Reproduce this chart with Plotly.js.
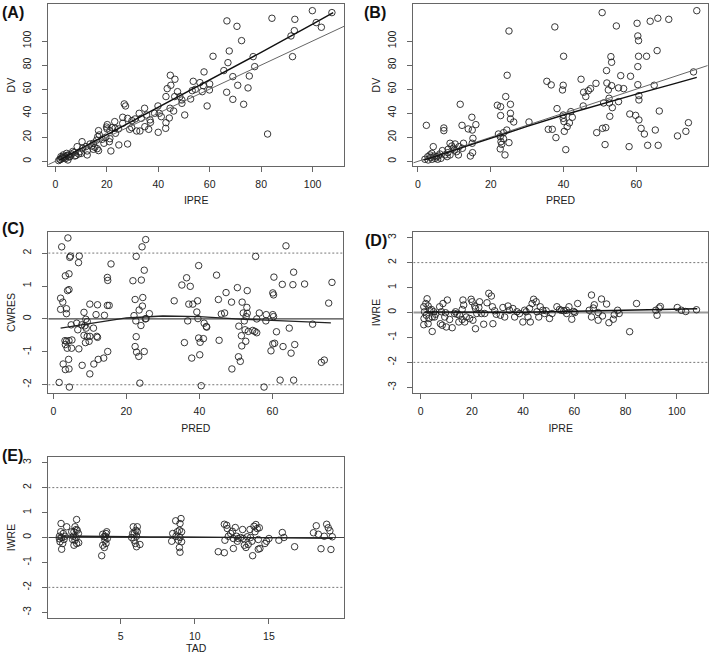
<!DOCTYPE html>
<html><head><meta charset="utf-8">
<script src="https://cdn.plot.ly/plotly-3.0.1.min.js"></script>
<style>html,body{margin:0;padding:0;background:#fff}#chart{width:709px;height:654px}</style>
</head><body><div id="chart"></div>
<script>
// ---- Panel A: DV vs IPRE ----
const A_ipre = [84.2,93.1,99.9,107.5,101.4,103.4,92.9,91.6,92.2,66.7,70.6,72.4,67.6,61.3,76.9,77.5,67.1,65.5,57.8,69,75.4,70.9,74.9,66.6,69,73.2,59,59.9,60,56.2,53.6,54.4,53.2,52.6,57.1,57.5,82.5,44.7,46.5,44.9,43.5,47.5,46.4,49.2,49.2,48.4,43,39.9,44.6,44.3,46,50.3,40.4,41.2,38.6,43,42.9,40,34.7,32.6,33.4,35.5,36.8,37,36.3,34.8,32.9,31.6,29.8,31,29.7,28.9,26.8,27.3,28.1,26.2,26.2,23.1,24.6,23.2,22,20.2,19.9,20.1,21.2,23.4,24.7,28.1,21.6,16.8,17.1,16.5,18.2,16.1,19.6,18.9,21.2,21,14.8,13.5,14.2,15.4,16.3,14.8,16.8,10.4,12.4,12.4,10.6,9.6,8.5,9.1,7.3,7.6,6.3,5.7,5.1,4.4,3.8,4.9,3.1,2.5,1.8,1.3,2.8,3.9,2.2,10.1,11.9,4.6,3.4,2.0,5.3,6.8,8.0];
const A_dv   = [118.9,118,125.2,123.6,115.3,111.4,108.6,104.2,87,116.7,112.2,100.3,91.7,87.3,87,78.7,82,75.4,74.3,70.4,70.9,63.2,61,57.4,51.5,47.4,46,59.3,64.3,65.4,66.5,59.8,58.7,51.8,57.9,62.9,22.7,71.5,68.2,63.2,60.4,57.9,53.8,51,48.2,53.8,53.8,46,44.1,36,41.8,38.5,39.9,37.1,39.9,32.1,27.4,24.1,44.1,39.9,35.7,38.5,34.4,32.4,26.6,28.8,25.2,25.2,33.8,35.2,28,26.6,47.7,46,35.7,36.6,31.6,33,26.9,27.4,28,30.5,28.5,26.9,25.5,23.3,13.6,14.4,8.6,25.5,21.9,20.5,18.3,17.7,20,15,18.8,16.3,15,14.4,12.7,11.6,10.5,10,8.9,16.3,8.6,5.3,10.8,8,12.2,6.1,7.2,4.4,6.1,3.9,5.3,6.6,3.9,1.1,5.3,2.5,1.7,0.6,3.3,2.2,3.9,6.6,12.2,4.8,2.9,1.4,3.6,8.2,4.9];

// ---- Panel B: DV vs PRED ----
const B_pred = [76.6,50.6,65.9,68.9,63.8,60.2,54.5,37.6,25,60.4,60.6,65.7,53,40,60.6,62.8,53.2,60.4,51.8,75.7,55.7,58.4,24.5,44.8,35.4,36.6,39.9,48.9,51.9,60.4,64.9,53.2,55.1,56.5,52.3,39.7,47.4,46.8,45.5,46.1,60.7,60.7,52.5,55.1,51,52.6,45.4,24.1,38.2,11.6,21.8,22.7,25.4,25.4,22.7,25.4,26.3,14.8,15.9,12.1,2.3,7.1,7.1,13.8,14.9,15.1,14.9,15,14.4,24.4,23.5,22.1,22.6,23.5,22.8,23,25,22.6,23.9,30.5,35.8,36.9,37.9,40.2,41,41.6,42.4,42,39.9,39.9,40.1,40.6,49.1,50.7,51.6,51.4,52.7,53.4,58,58.2,59.8,60.7,61.3,62.2,63.1,65.2,66,66.3,71.3,73.6,74.3,1.9,2.7,3.3,3.8,4.2,4.7,5.1,3.9,2.8,3.5,4.5,5.6,6,6.7,7.4,8.2,8.3,8.8,9.3,9.7,10.2,8.8,10,10.6,11.3,11.1,12.2,12.5,8,6.3,5.4];
const B_dv   = [125.2,123.6,118.9,118,116.4,114.7,112.5,111.7,108.3,104.2,100.3,92,87,87.3,87.3,87.3,82.3,78.7,75.4,74.3,71.2,70.7,71.5,68.2,66.5,63.5,63.2,64.8,65.1,63.7,63.2,62.9,61,60.4,59.3,59.3,60.4,58.7,57.4,53.8,54.6,51,52.4,49.6,48.5,48.5,46,53.8,43.8,47.4,46.6,45.4,47.4,39.9,38,35.2,32.7,36.6,30.5,29.9,29.9,27.7,25.5,26.9,26,19.1,15,7.2,4.4,26,23.8,22.7,20.5,18.8,16.3,14.1,15.5,10.3,5.3,32.7,26.6,26.6,19.7,24.9,28.8,31.9,36.6,41.3,38.5,35.7,33,9.7,23.8,27.4,28,13.9,37.4,44.6,12.2,39.3,38.2,34.4,27.4,22.7,13.3,26,13.3,41.8,21.1,24.9,32.1,1.7,3.9,5.3,6.6,12.2,2.5,3.9,1.7,1.1,3.3,4.4,4.4,6.1,8.9,5.3,7.2,10,15,12.7,10.8,14.4,5.3,9.4,8,12.2,5.3,10.8,15,3.9,2.5,1.7];

// ---- Panel C: CWRES vs PRED ----
const C_pred  = [1.6,2.3,4.0,4.5,4.7,7.1,6.9,3.3,4.3,3.9,4.3,2.0,2.6,2.0,3.6,3.6,4.9,6.4,6.7,7.8,8.4,8.9,8.6,9.3,9.0,10.0,12.1,11.7,14.0,14.8,15.3,14.8,14.9,15.8,3.2,3.6,4.3,3.3,5.1,3.8,5.0,7.0,8.4,9.3,8.8,9.8,10.0,11.9,12.1,11.0,2.7,3.3,4.3,4.2,7.9,10.0,11.1,12.3,13.8,14.9,4.4,23.7,21.8,24.1,22.7,24.3,25.3,24.9,22.4,24.5,24.4,23.5,22.1,22.6,24.0,25.2,25.4,26.3,22.7,22.4,22.8,23.4,24.9,33.1,35.9,35.2,36.5,37.5,37.1,38.2,36.8,37.9,39.8,39.5,39.3,39.6,39.8,40.2,41.1,41.3,41.9,42.0,40.1,40.5,44.7,45.2,45.4,46.0,46.9,47.3,48.8,48.9,50.4,50.8,50.7,51.2,51.7,51.5,51.6,52.0,52.3,52.5,52.7,52.8,53.0,53.1,53.1,53.4,54.6,55.2,55.7,55.4,55.7,56.4,58.3,58.2,57.7,59.6,60.1,60.3,60.1,60.3,60.1,60.6,60.4,61.1,62.1,62.7,62.9,63.7,64.6,65.1,65.6,65.8,65.8,66.1,68.8,71.0,73.4,74.2,75.4,76.3];
const C_cwres = [-1.93,2.19,2.46,1.87,1.91,1.91,1.71,1.31,1.37,0.86,0.89,0.63,0.51,0.29,0.31,0.16,-0.18,-0.13,-0.33,-0.18,0.2,-0.01,-0.21,-0.08,-0.28,0.45,0.43,0.13,0.11,0.41,0.41,1.26,1.17,1.67,-0.66,-0.68,-0.66,-0.78,-0.64,-0.89,-0.89,-0.91,-0.5,-0.53,-0.72,-0.68,-0.53,-0.53,-0.56,-0.28,-1.37,-1.54,-1.52,-1.23,-1.41,-1.67,-1.37,-1.23,-1.19,-0.99,-2.07,-1.95,1.16,1.18,1.90,2.19,2.41,1.48,0.59,0.65,0.39,0.27,0.1,-0.06,-0.2,0,0.01,0.16,-0.54,-0.84,-1.01,-1.14,-0.99,0.55,-0.72,1.03,1.25,0.99,0.45,0.45,-0.06,-1.19,1.62,0.55,0.21,0.01,-0.58,-0.71,-0.6,-0.13,-0.23,-0.25,-1.09,-2.03,1.33,0.59,-0.65,0.15,0.18,0.8,0.51,-1.52,0.95,-0.22,-1.15,-1.29,0.51,-0.51,-0.82,0.18,-0.06,-0.33,-0.68,0.07,0.35,0.17,0.86,-0.38,-0.35,-0.38,-0.42,1.9,0,0.18,0.13,-0.06,-2.07,-0.97,0.79,0.73,0.13,0.07,-0.76,-0.74,1.27,-0.39,-1.86,1.05,-0.84,2.22,-0.28,-1.04,1.04,1.42,-1.86,-0.78,1.06,-0.16,-1.32,-1.25,0.48,1.11];

// ---- Panel D: IWRE vs IPRE ----
const D_ipre = [2.5,2.0,1.2,2.9,3.5,1.5,2.2,1.3,3.2,1.2,2.9,4.5,4.2,5.1,5.4,4.5,5.8,7.4,8.1,8.7,10.4,9.7,9.4,7.7,8.4,10,12.3,11.3,13.2,13.6,14.2,15.2,16.5,16.8,16.2,17.2,14.9,16.2,17.8,19.7,20.1,21.1,21.4,22.7,21.9,23,19.1,20.4,21.4,24.6,23.7,25,25.9,26.6,27.6,28,28.2,28.9,29.5,31.1,32.1,32.8,34.1,34.7,36,36.7,37.6,38.6,39.9,40.6,41.2,41.9,42.5,42.8,43.5,44.1,45.1,45.4,46.1,46.7,47.7,48.4,49,50.3,51.3,53.2,54.2,54.9,55.9,56.9,57.9,57,59.8,59.0,60.2,61.3,65.8,66.7,67.4,67.8,66.7,69.3,69.3,70.6,71,72.6,73.5,75.2,75.6,76.9,77.5,81.6,84.3,91.8,92.3,93.1,93.6,100.2,101.8,103.5,107.7];
const D_iwre = [0.55,0.36,0.23,0.26,0.09,0.03,-0.11,-0.24,-0.24,-0.49,-0.45,-0.76,0.12,0.03,-0.18,-0.18,-0.07,0.23,0.03,0.36,0.5,-0.01,-0.18,-0.45,-0.51,-0.58,-0.61,-0.28,-0.04,0.03,-0.07,-0.11,0.5,0.3,0.12,-0.38,-0.38,-0.28,-0.18,0.53,0.43,0.26,0.16,0.2,-0.04,0.43,-0.24,-0.31,-0.65,-0.47,-0.04,-0.04,0.39,0.77,0.66,0.23,-0.45,0.07,-0.07,-0.11,0.2,-0.18,0.26,0.09,0.16,-0.18,0.03,-0.04,-0.38,0.09,0.03,-0.18,0.16,-0.38,0.36,0.53,0.43,0.03,-0.18,0.23,0.09,-0.04,0.07,-0.24,-0.04,0.23,0.12,0.09,0.07,0.09,0.23,-0.04,0.04,-0.27,0,0.36,0.09,0.7,0.18,0.31,-0.18,0,-0.31,0.54,-0.14,0.34,-0.41,-0.27,-0.09,0.09,-0.04,-0.77,0.36,0.09,-0.11,0.18,0.24,0.2,0.09,0.04,0.11];

// ---- Panel E: IWRE vs TAD ----
const E_tad  = [0.98,1.36,0.96,1.13,0.87,1.02,1.18,0.91,1.09,1.02,1.25,0.87,2.03,1.92,2.0,1.85,2.07,1.7,1.81,2.0,2.15,1.92,2.03,2.17,1.85,1.76,3.72,3.79,4.01,3.88,4.06,3.94,4.01,3.9,3.79,4.1,3.97,5.85,6.12,6.03,5.92,6.07,5.74,5.9,5.99,6.07,6.3,5.81,6.12,8.71,9.07,9.0,8.96,8.82,8.51,8.73,9.0,8.89,9.11,8.44,8.96,9.0,9.11,11.58,11.99,11.99,12.15,12.19,12.03,12.26,12.42,12.53,12.6,12.6,12.73,12.82,12.93,12.87,13.09,13.22,13.27,13.34,13.45,13.54,13.6,13.72,13.76,13.85,13.9,13.99,14.06,14.12,14.21,14.35,14.28,14.28,14.39,14.73,14.84,15.0,15.67,15.9,16.01,16.73,18.0,18.19,18.33,18.51,18.73,18.89,19.0,19.11,19.18,19.27];
const E_iwre = [0.56,0.43,0.23,0.16,0.05,0,-0.08,-0.17,-0.24,-0.47,0.05,-0.05,0.72,0.43,0.32,0.23,0.29,0.23,0.05,0,0.16,-0.11,-0.24,-0.21,-0.31,-0.08,-0.73,0.13,0.16,0.03,0.23,-0.11,-0.24,-0.4,-0.31,-0.04,0.05,0.43,0.43,0.29,0.16,0.05,0,-0.11,-0.24,-0.37,-0.28,0.16,0.23,0.67,0.76,0.56,0.29,0.23,0.16,0.05,0,-0.11,-0.17,-0.15,-0.4,-0.59,0.23,-0.57,-0.61,0.53,0.49,0.36,-0.11,0.05,0.16,0.25,-0.04,-0.44,0.4,0.05,-0.04,-0.15,0,0.32,-0.04,-0.31,-0.4,0.03,-0.28,0.32,0,-0.15,-0.73,0.45,0.23,0.52,0.36,0.39,-0.08,-0.47,-0.44,-0.24,-0.15,-0.04,-0.11,0.2,0,-0.37,0.19,0.47,0.13,-0.45,0.05,0.53,0.39,0.27,-0.48,0.03];

// ---- Smooth (loess) curves ----
const A_smx = [1.5,20,40,60,80,100,108];
const A_smy = [1.0,22,45,67.5,90.5,114,123.5];
const B_smx = [1.5,10,20,30,40,50,60,70,76.6];
const B_smy = [1.0,9.5,19.5,29,38.5,47.3,55.8,64.2,69.8];
const C_smx = [2,10,20,30,40,50,60,70,76];
const C_smy = [-0.28,-0.15,0.03,0.09,0.07,0.0,-0.05,-0.09,-0.12];
const D_smx = [1.5,20,40,60,80,100,108];
const D_smy = [0.02,0.02,0.01,0.05,0.09,0.13,0.15];
const E_smx = [1,3,5,7,9,11,13,15,17,19.3];
const E_smy = [0.06,0.04,0.03,0.02,0.02,0.01,0.0,-0.01,-0.02,-0.03];

// ---- Axis ranges and ticks ----
const rA = {x:[-2.72,112.2], y:[-3.9,130.5]};
const rB = {x:[-1.29,79.6], y:[-3.9,130.5]};
const rC = {x:[-1.37,79.4], y:[-2.26,2.65]};
const rD = {x:[-2.89,112.2], y:[-3.24,3.24]};
const rE = {x:[0.12,20.06], y:[-3.24,3.24]};
const ticksDV = [0,20,40,60,80,100];
const ticksX100 = [0,20,40,60,80,100];
const ticksX60 = [0,20,40,60];
const ticksCW = [-2,-1,0,1,2];
const ticksIW = [-3,-2,-1,0,1,2,3];
const ticksTAD = [5,10,15];

const FONT = 'Liberation Sans, Arial, Helvetica, sans-serif';
const pts = (x,y,ax) => ({type:'scatter',mode:'markers',x:x,y:y,xaxis:'x'+ax,yaxis:'y'+ax,
  marker:{symbol:'circle-open',size:6.5,color:'#222',line:{width:0.9,color:'#222'}},hoverinfo:'skip',showlegend:false});
const ln = (x,y,ax,color,w,dash) => ({type:'scatter',mode:'lines',x:x,y:y,xaxis:'x'+ax,yaxis:'y'+ax,
  line:{color:color,width:w,dash:dash||'solid'},hoverinfo:'skip',showlegend:false});
const idLine = (r,ax) => { const lo=Math.max(r.x[0],r.y[0]), hi=Math.min(r.x[1],r.y[1]); return ln([lo,hi],[lo,hi],ax,'#666',1); };
const hline = (r,v,ax,color,w,dash) => ln([r.x[0],r.x[1]],[v,v],ax,color,w,dash);

const traces = [
  pts(A_ipre,A_dv,''), idLine(rA,''), ln(A_smx,A_smy,'','#111',1.4),
  pts(B_pred,B_dv,'2'), idLine(rB,'2'), ln(B_smx,B_smy,'2','#111',1.4),
  hline(rC,2,'3','#777',1,'2px,2px'), hline(rC,-2,'3','#777',1,'2px,2px'), hline(rC,0,'3','#444',1.2),
  pts(C_pred,C_cwres,'3'), ln(C_smx,C_smy,'3','#222',1.4),
  hline(rD,2,'4','#777',1,'2px,2px'), hline(rD,-2,'4','#777',1,'2px,2px'), hline(rD,0,'4','#999',2),
  pts(D_ipre,D_iwre,'4'), ln(D_smx,D_smy,'4','#111',1.4),
  hline(rE,2,'5','#777',1,'2px,2px'), hline(rE,-2,'5','#777',1,'2px,2px'), hline(rE,0,'5','#444',1.2),
  pts(E_tad,E_iwre,'5'), ln(E_smx,E_smy,'5','#222',1.4)
];

const W=709,H=654;
const dx = (l,r)=>[l/W,r/W];
const dy = (t,b)=>[1-b/H,1-t/H];
function xax(dom,range,ticks,title,anchor){
  return {domain:dom,range:range,tickvals:ticks,ticktext:ticks.map(String),anchor:anchor,
    showline:true,mirror:true,linecolor:'#666',linewidth:1,ticks:'outside',ticklen:5,tickcolor:'#666',
    showgrid:false,zeroline:false,ticklabelstandoff:3,tickfont:{family:FONT,size:10.5,color:'#222'},
    title:{text:title,font:{family:FONT,size:10.5,color:'#222'},standoff:8}};
}
function yax(dom,range,ticks,title,anchor){
  return {domain:dom,range:range,tickvals:ticks,ticktext:ticks.map(String),anchor:anchor,
    showline:true,mirror:true,linecolor:'#666',linewidth:1,ticks:'outside',ticklen:5,tickcolor:'#666',
    showgrid:false,zeroline:false,tickangle:-90,ticklabelstandoff:7,tickfont:{family:FONT,size:10.5,color:'#222'},
    title:{text:title,font:{family:FONT,size:10.5,color:'#222'},standoff:3}};
}
const layout = {
  width:W,height:H,margin:{l:0,r:0,t:0,b:0},paper_bgcolor:'#fff',plot_bgcolor:'#fff',showlegend:false,
  xaxis: xax(dx(48.3,344),rA.x,ticksX100,'IPRE','y'),
  yaxis: yax(dy(4.3,166),rA.y,ticksDV,'DV','x'),
  xaxis2: xax(dx(413.3,707.7),rB.x,ticksX60,'PRED','y2'),
  yaxis2: yax(dy(4.3,166),rB.y,ticksDV,'DV','x2'),
  xaxis3: xax(dx(48.3,343.3),rC.x,ticksX60,'PRED','y3'),
  yaxis3: yax(dy(231.7,393.3),rC.y,ticksCW,'CWRES','x3'),
  xaxis4: xax(dx(413.3,708),rD.x,ticksX100,'IPRE','y4'),
  yaxis4: yax(dy(231.7,393.3),rD.y,ticksIW,'IWRE','x4'),
  xaxis5: xax(dx(48.3,344),rE.x,ticksTAD,'TAD','y5'),
  yaxis5: yax(dy(456.7,618.3),rE.y,ticksIW,'IWRE','x5'),
  annotations: [
    ['(A)',0,12],['(B)',362,12],['(C)',0,228],['(D)',363,240],['(E)',0,455]
  ].map(a=>({text:'<b>'+a[0]+'</b>',xref:'paper',yref:'paper',x:a[1]/W,y:1-a[2]/H,xanchor:'left',yanchor:'middle',
    showarrow:false,font:{family:FONT,size:16,color:'#111'}}))
};
Plotly.newPlot('chart',traces,layout,{displayModeBar:false,staticPlot:true});
</script></body></html>
